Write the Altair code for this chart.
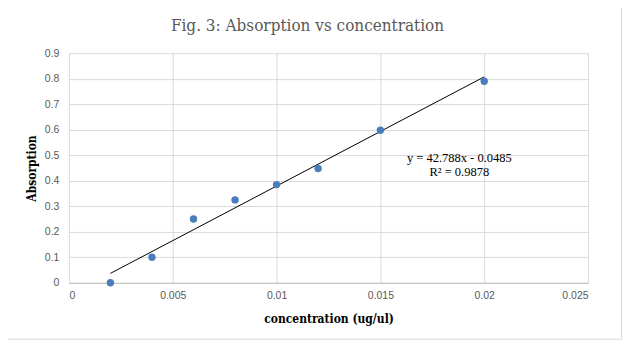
import altair as alt
import pandas as pd

conc = [0.002, 0.004, 0.006, 0.008, 0.010, 0.012, 0.015, 0.020]
absorption = [0.0, 0.1, 0.25, 0.325, 0.385, 0.448, 0.598, 0.79]
slope = 42.788
intercept = -0.0485
eq_lines = ["y = 42.788x - 0.0485", "R² = 0.9878"]
title_text = "Fig. 3: Absorption vs concentration"
x_ticks = [0, 0.005, 0.01, 0.015, 0.02, 0.025]
y_ticks = [0, 0.1, 0.2, 0.3, 0.4, 0.5, 0.6, 0.7, 0.8, 0.9]

pts = pd.DataFrame({"x": conc, "y": absorption})
trend = pd.DataFrame({"x": [min(conc), max(conc)]})
trend["y"] = slope * trend["x"] + intercept
eq = pd.DataFrame({"x": [0.0188, 0.0188], "y": [0.489, 0.436], "t": eq_lines})

W, H = 520, 230
xs = alt.Scale(domain=[0, 0.025], nice=False)
ys = alt.Scale(domain=[0, 0.9], nice=False)

xax = alt.Axis(values=x_ticks, format="~g", title="concentration  (ug/ul)",
               grid=True, gridColor="#d9d9d9", domainColor="#bfbfbf", ticks=False,
               labelColor="#595959", labelFont="Liberation Sans", labelFontSize=10.5, labelPadding=8,
               labelOverlap=False,
               titleFont="DejaVu Serif Condensed", titleFontSize=12, titleFontWeight="bold",
               titleColor="#000000", titlePadding=12)
yax = alt.Axis(values=y_ticks, format="~g", title="Absorption",
               grid=True, gridColor="#d9d9d9", domain=False, ticks=False,
               labelColor="#595959", labelFont="Liberation Sans", labelFontSize=10.5, labelPadding=10,
               labelOverlap=False,
               titleFont="DejaVu Serif Condensed", titleFontSize=12, titleFontWeight="bold",
               titleColor="#000000", titlePadding=6)

X = alt.X("x:Q", scale=xs, axis=xax)
Y = alt.Y("y:Q", scale=ys, axis=yax)

one = pd.DataFrame({"a": [0]})

border = alt.Chart(one).mark_rect(
    fillOpacity=0, stroke="#d9d9d9", strokeWidth=1, clip=False
).encode(x=alt.value(-62.5), x2=alt.value(553.5), y=alt.value(-46.5), y2=alt.value(286.5))

title = alt.Chart(one).mark_text(
    text=title_text, font="DejaVu Serif Condensed", fontSize=17, color="#595959",
    align="center", baseline="middle", clip=False
).encode(x=alt.value(239), y=alt.value(-27))

line = alt.Chart(trend).mark_line(color="black", strokeWidth=1).encode(x=X, y=Y)

points = alt.Chart(pts).mark_circle(size=55, color="#4a7ebb", opacity=1).encode(x=X, y=Y)

text = alt.Chart(eq).mark_text(font="Liberation Serif", fontSize=12.5, color="#000000").encode(
    x=X, y=Y, text="t:N")

chart = alt.layer(line, points, text, border, title).properties(
    width=W, height=H,
    autosize=alt.AutoSizeParams(type="none"),
    padding={"left": 61, "top": 45, "right": 40, "bottom": 60},
).configure_view(stroke=None)

chart.save("out.html", embed_options={"renderer": "svg", "actions": False})
